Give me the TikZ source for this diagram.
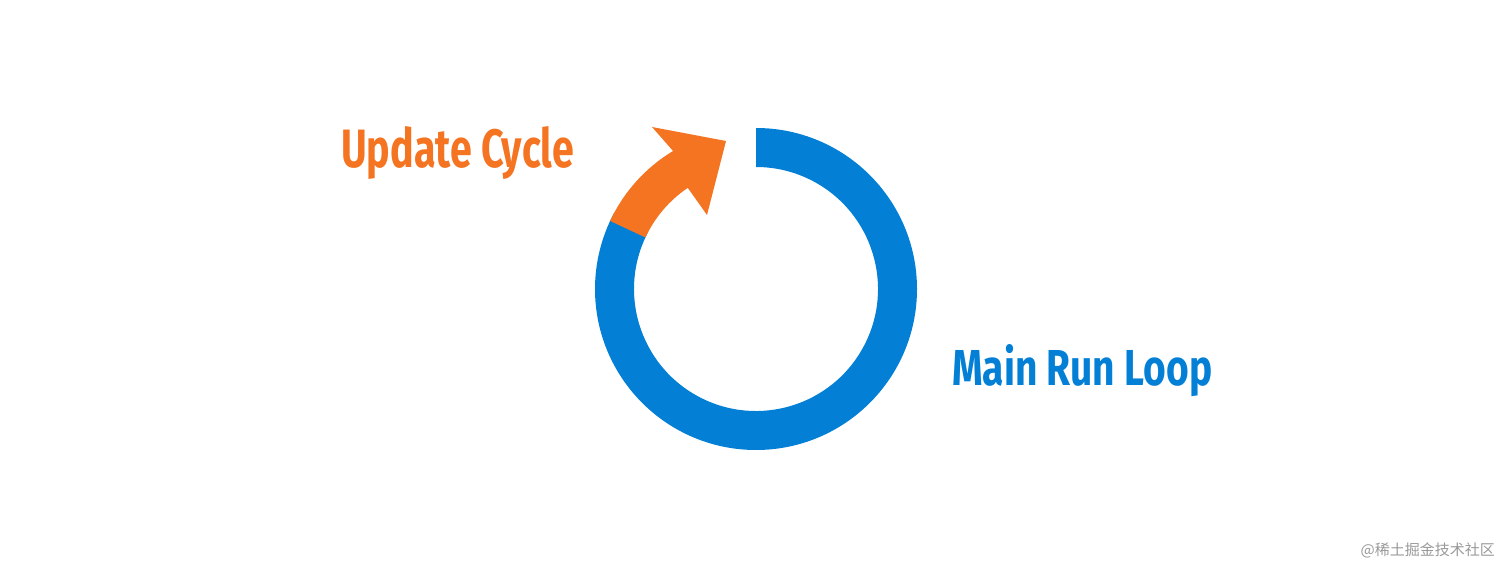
\documentclass[tikz,border=0pt]{standalone}
\usepackage{fontspec}
\setmainfont{Fira Sans}
\newfontfamily\cjk{Noto Sans CJK SC}
\usepackage{graphicx}
\definecolor{loopblue}{RGB}{3,128,214}
\definecolor{updorange}{RGB}{244,116,33}
\begin{document}
\begin{tikzpicture}[x=1pt,y=1pt,
  lbl/.style={inner sep=0pt,anchor=base west,font=\bfseries}]
\useasboundingbox (0,0) rectangle (1512,579);
\coordinate (c) at (756,290);
% blue ring
\fill[loopblue] ([shift={(90:161)}]c) arc[start angle=90,end angle=-208,radius=161]
  -- ([shift={(-208:122)}]c) arc[start angle=-208,end angle=90,radius=122] -- cycle;
% orange arc with arrowhead
\fill[updorange] ([shift={(155:122)}]c) arc[start angle=155,end angle=124,radius=122]
  -- (707,364) -- (726,438) -- (652,452)
  -- ([shift={(121:161)}]c) arc[start angle=121,end angle=155,radius=161] -- cycle;
\node[lbl,text=updorange] (upd) at (341,411) {\resizebox{233pt}{41pt}{Update Cycle}};
\node[lbl,text=loopblue] (loop) at (952,194) {\resizebox{260pt}{41pt}{Main Run Loop}};
\node[anchor=east,inner sep=0pt,text=gray!80,font=\cjk\fontsize{15}{15}\selectfont] (wm) at (1495,29) {@稀土掘金技术社区};
\end{tikzpicture}
\end{document}
